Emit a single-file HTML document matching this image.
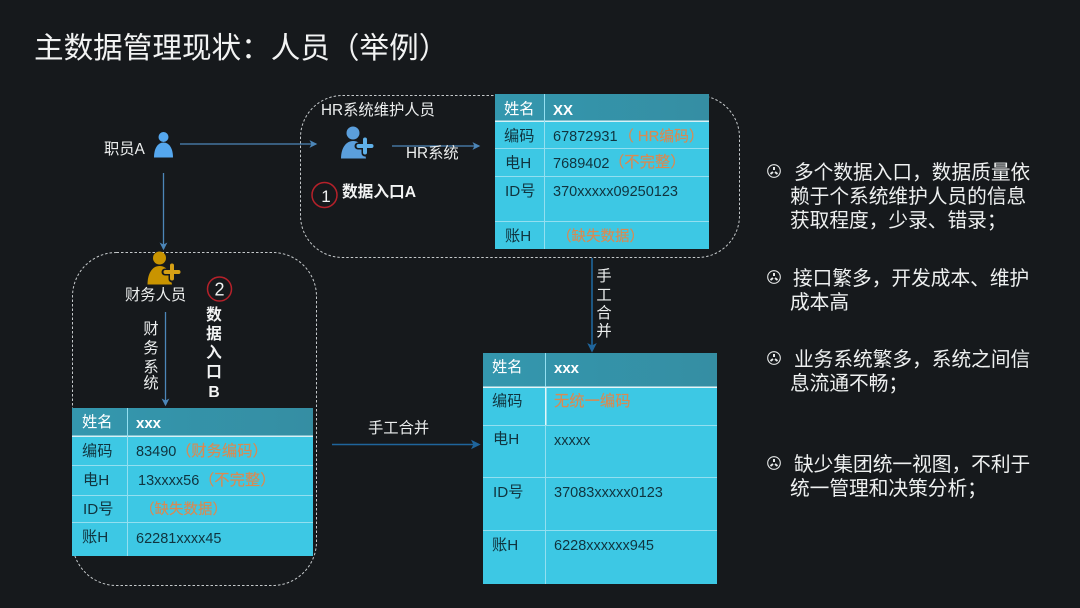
<!DOCTYPE html>
<html><head><meta charset="utf-8">
<style>
html,body{margin:0;padding:0;background:#16191c;width:1080px;height:608px;overflow:hidden}
svg{display:block;filter:blur(0.35px)}
text{font-family:"Liberation Sans","Noto Sans CJK SC",sans-serif}
.w{fill:#eceeee;font-size:15.3px}
.b{fill:#f2f3f3;font-size:15.7px;font-weight:bold}
.h{fill:#fff;font-size:15.3px}
.hb{fill:#fff;font-size:15px;font-weight:bold}
.d{fill:#10343f;font-size:14.5px}
.l{fill:#10343f;font-size:15.2px}
.o{fill:#d98a52;font-size:15.3px;stroke:#d98a52;stroke-width:.15px}
.o2{fill:#d98a52;font-size:14.5px;stroke:#d98a52;stroke-width:.15px}
.r{fill:#eef0f0;font-size:19.7px}
</style></head><body>
<svg width="1080" height="608" viewBox="0 0 1080 608" xmlns="http://www.w3.org/2000/svg">
<defs>
<linearGradient id="hd" x1="0" y1="0" x2="1" y2="0"><stop offset="0" stop-color="#3497ae"/><stop offset="1" stop-color="#358ea3"/></linearGradient>
<marker id="a1" markerWidth="7" markerHeight="7" refX="5" refY="3" orient="auto"><path d="M0 0L6 3L0 6L1.500 3Z" fill="#4c86b8"/></marker>
<marker id="a2" markerWidth="7" markerHeight="7" refX="5" refY="3" orient="auto"><path d="M0 0L6 3L0 6L1.500 3Z" fill="#1f659c"/></marker>
</defs>
<rect width="1080" height="608" fill="#16191c"/>
<text x="34" y="58" fill="#f2f3f3" style="font-size:29.6px">主数据管理现状：人员（举例）</text>

<!-- dashed boxes -->
<rect x="300.500" y="95.500" width="439" height="162" rx="42" fill="none" stroke="#c5c9cb" stroke-width="1" stroke-dasharray="2.500 2"/>
<rect x="72.500" y="252.500" width="244" height="333" rx="44" fill="none" stroke="#c5c9cb" stroke-width="1" stroke-dasharray="2.500 2"/>

<!-- connectors -->
<g fill="none" stroke-width="1.300">
<line x1="180" y1="144" x2="316" y2="144" stroke="#4c86b8" marker-end="url(#a1)"/>
<line x1="392" y1="146" x2="479" y2="146" stroke="#4c86b8" marker-end="url(#a1)"/>
<line x1="163.500" y1="173" x2="163.500" y2="249" stroke="#4c86b8" marker-end="url(#a1)"/>
<line x1="165.500" y1="312" x2="165.500" y2="405" stroke="#4c86b8" marker-end="url(#a1)"/>
<line x1="592" y1="258" x2="592" y2="351" stroke="#1f659c" stroke-width="1.600" marker-end="url(#a2)"/>
<line x1="332" y1="444.500" x2="479" y2="444.500" stroke="#1f659c" stroke-width="1.600" marker-end="url(#a2)"/>
</g>

<!-- employee icon -->
<circle cx="163.500" cy="137" r="5" fill="#55a7ee"/>
<path d="M154 157.500C154 148 158 142.500 163.500 142.500C169 142.500 173 148 173 157.500Z" fill="#55a7ee"/>
<text x="104" y="154" class="w">职员A</text>

<!-- HR icon -->
<circle cx="353" cy="133" r="6.500" fill="#5b9fdc"/>
<path d="M341 158.500C341 148 346 141 353 141C358 141 362 144 364 149L366 158.500Z" fill="#5b9fdc"/>
<path d="M358 146H372M365 139V153" stroke="#16191c" stroke-width="7" fill="none" stroke-linecap="round"/>
<path d="M358.500 146H371.500M365 139.500V152.500" stroke="#5fb0e8" stroke-width="4" fill="none" stroke-linecap="round"/>
<text x="321" y="115" class="w">HR系统维护人员</text>
<text x="406" y="158" class="w">HR系统</text>
<circle cx="324.500" cy="195" r="12.500" fill="none" stroke="#b5212a" stroke-width="1.500"/>
<text x="326" y="202" text-anchor="middle" fill="#f2f3f3" style="font-size:17px">1</text>
<text x="342" y="197" class="b">数据入口A</text>

<!-- finance icon -->
<circle cx="159.500" cy="258" r="6.500" fill="#c99400"/>
<path d="M147.500 284.500C147.500 274 152 266 159.500 266C164.500 266 168 269 170 274L172 284.500Z" fill="#c99400"/>
<path d="M165 272H179M172 265V279" stroke="#16191c" stroke-width="7" fill="none" stroke-linecap="round"/>
<path d="M165.500 272H178.500M172 265.500V278.500" stroke="#d6a015" stroke-width="4" fill="none" stroke-linecap="round"/>
<text x="125" y="300" class="w">财务人员</text>
<circle cx="219.500" cy="289" r="12" fill="none" stroke="#b5212a" stroke-width="1.500"/>
<text x="219.500" y="295.500" text-anchor="middle" fill="#f2f3f3" style="font-size:18px">2</text>
<g class="b" text-anchor="middle">
<text x="214" y="320">数</text><text x="214" y="339">据</text><text x="214" y="358">入</text><text x="214" y="377">口</text><text x="214" y="397">B</text>
</g>
<g class="w" text-anchor="middle">
<text x="151" y="334">财</text><text x="151" y="353">务</text><text x="151" y="372">系</text><text x="151" y="388">统</text>
<text x="604" y="281">手</text><text x="604" y="300">工</text><text x="604" y="318">合</text><text x="604" y="336">并</text>
</g>
<text x="368" y="433" class="w">手工合并</text>

<!-- table 1 -->
<rect x="495" y="94" width="214" height="155" fill="#3dc8e4"/>
<rect x="495" y="94" width="214" height="27" fill="url(#hd)"/>
<rect x="495" y="120.500" width="214" height="1.500" fill="#d5f1f6"/>
<rect x="495" y="148" width="214" height="1" fill="#93dff0"/>
<rect x="495" y="176" width="214" height="1" fill="#93dff0"/>
<rect x="495" y="221" width="214" height="1" fill="#93dff0"/>
<rect x="544" y="94" width="1" height="155" fill="#93dff0"/>
<text x="504" y="114" class="h">姓名</text><text x="553" y="115" class="hb">XX</text>
<text x="504" y="141" class="l">编码</text><text x="553" y="141" class="d">67872931</text><text x="619" y="141" class="o" style="font-size:14.8px">（ HR编码）</text>
<text x="505" y="168" class="l">电H</text><text x="553" y="168" class="d">7689402</text><text x="609" y="167" class="o">（不完整）</text>
<text x="505" y="196" class="l">ID号</text><text x="553" y="196" class="d">370xxxxx09250123</text>
<text x="505" y="241" class="l">账H</text><text x="557" y="241" class="o2">（缺失数据）</text>

<!-- table 2 -->
<rect x="72" y="408" width="241" height="148" fill="#3dc8e4"/>
<rect x="72" y="408" width="241" height="28" fill="url(#hd)"/>
<rect x="72" y="435.500" width="241" height="1.500" fill="#d5f1f6"/>
<rect x="72" y="465" width="241" height="1" fill="#93dff0"/>
<rect x="72" y="495" width="241" height="1" fill="#93dff0"/>
<rect x="72" y="522" width="241" height="1" fill="#93dff0"/>
<rect x="127" y="408" width="1" height="148" fill="#93dff0"/>
<text x="82" y="427" class="h">姓名</text><text x="136" y="428" class="hb">xxx</text>
<text x="82" y="456" class="l">编码</text><text x="136" y="456" class="d">83490</text><text x="176" y="456" class="o">（财务编码）</text>
<text x="83" y="485" class="l">电H</text><text x="138" y="485" class="d">13xxxx56</text><text x="199" y="485" class="o">（不完整）</text>
<text x="83" y="514" class="l">ID号</text><text x="140" y="514" class="o2">（缺失数据）</text>
<text x="82" y="542" class="l">账H</text><text x="136" y="543" class="d">62281xxxx45</text>

<!-- table 3 -->
<rect x="483" y="353" width="234" height="231" fill="#3dc8e4"/>
<rect x="483" y="353" width="234" height="34" fill="url(#hd)"/>
<rect x="483" y="386.500" width="234" height="1.500" fill="#e5f6f9"/>
<rect x="483" y="425" width="234" height="1" fill="#93dff0"/>
<rect x="483" y="477" width="234" height="1" fill="#93dff0"/>
<rect x="483" y="530" width="234" height="1" fill="#93dff0"/>
<rect x="545" y="353" width="1" height="231" fill="#93dff0"/>
<rect x="545" y="387" width="1.500" height="38" fill="#e5f6f9"/>
<text x="492" y="372" class="h">姓名</text><text x="554" y="373" class="hb">xxx</text>
<text x="492" y="406" class="l">编码</text><text x="554" y="406" class="o">无统一编码</text>
<text x="493" y="444" class="l">电H</text><text x="554" y="445" class="d">xxxxx</text>
<text x="493" y="497" class="l">ID号</text><text x="554" y="497" class="d">37083xxxxx0123</text>
<text x="492" y="550" class="l">账H</text><text x="554" y="550" class="d">6228xxxxxx945</text>

<!-- right bullets -->
<g fill="none" stroke="#e6e8e8" stroke-width="1.100">
<g transform="translate(774 171)"><circle r="6.300"/><path d="M0 -4V-1M-3.500 3L-1 1M3.500 3L1 1" stroke-width="2"/></g>
<g transform="translate(774 277)"><circle r="6.300"/><path d="M0 -4V-1M-3.500 3L-1 1M3.500 3L1 1" stroke-width="2"/></g>
<g transform="translate(774 358)"><circle r="6.300"/><path d="M0 -4V-1M-3.500 3L-1 1M3.500 3L1 1" stroke-width="2"/></g>
<g transform="translate(774 463)"><circle r="6.300"/><path d="M0 -4V-1M-3.500 3L-1 1M3.500 3L1 1" stroke-width="2"/></g>
</g>
<text x="794" y="179" class="r">多个数据入口，数据质量依</text>
<text x="790" y="203" class="r">赖于个系统维护人员的信息</text>
<text x="790" y="227" class="r">获取程度，少录、错录；</text>
<text x="793" y="285" class="r">接口繁多，开发成本、维护</text>
<text x="790" y="309" class="r">成本高</text>
<text x="794" y="366" class="r">业务系统繁多，系统之间信</text>
<text x="790" y="390" class="r">息流通不畅；</text>
<text x="794" y="471" class="r">缺少集团统一视图，不利于</text>
<text x="790" y="495" class="r">统一管理和决策分析；</text>
</svg>
</body></html>
